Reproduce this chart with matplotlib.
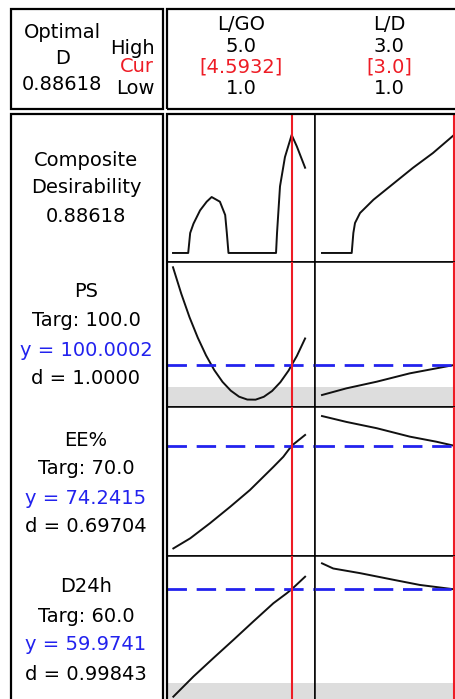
import matplotlib
matplotlib.use("Agg")
import matplotlib.pyplot as plt
from matplotlib.patches import Rectangle

plt.rcParams['font.family'] = ['DejaVu Sans']

# factors: name, high, current, low
factors = ["L/GO", "L/D"]
highs = ["5.0", "3.0"]
currents = ["[4.5932]", "[3.0]"]
lows = ["1.0", "1.0"]
cur_vals = [4.5932, 3.0]

optimal_d = "0.88618"

# responses
responses = ["PS", "EE%", "D24h"]
targets = ["Targ: 100.0", "Targ: 70.0", "Targ: 60.0"]
y_texts = ["y = 100.0002", "y = 74.2415", "y = 59.9741"]
d_texts = ["d = 1.0000", "d = 0.69704", "d = 0.99843"]
y_now = [100.0002, 74.2415, 59.9741]
lower_bounds = [80.0, None, 40.0]

# composite desirability curves
comp_x1 = [1.0, 1.46, 1.52, 1.62, 1.82, 2.02, 2.17, 2.42, 2.58, 2.63, 2.68, 4.12, 4.15, 4.24, 4.39, 4.5932, 4.75, 5.0]
comp_d1 = [0, 0, 0.15, 0.22, 0.32, 0.385, 0.42, 0.385, 0.285, 0.15, 0, 0, 0.15, 0.50, 0.72, 0.886, 0.80, 0.64]
comp_x2 = [1.0, 1.45, 1.475, 1.5, 1.576, 1.78, 2.08, 2.38, 2.68, 3.0]
comp_d2 = [0, 0, 0.15, 0.225, 0.30, 0.40, 0.52, 0.64, 0.75, 0.886]

# PS
ps_x1 = [1.0, 1.25, 1.5, 1.75, 2.0, 2.25, 2.5, 2.75, 3.0, 3.25, 3.5, 3.75, 4.0, 4.25, 4.5, 4.5932, 4.75, 5.0]
ps_y1 = [188.0, 164.2, 143.0, 124.6, 108.7, 95.4, 84.8, 76.9, 71.5, 68.9, 68.8, 71.4, 76.6, 84.5, 95.0, 100.0, 108.1, 123.9]
ps_x2 = [1.0, 1.37, 1.83, 2.33, 3.0]
ps_y2 = [73.0, 79.0, 85.0, 92.5, 100.0]

# EE%
ee_x1 = [1.01, 1.52, 2.12, 2.73, 3.33, 3.64, 4.04, 4.34, 4.5932, 5.0]
ee_y1 = [49.8, 52.2, 55.8, 59.7, 63.7, 66.1, 69.2, 71.6, 74.24, 76.8]
ee_x2 = [1.0, 1.37, 1.83, 2.33, 2.73, 3.0]
ee_y2 = [81.3, 79.9, 78.4, 76.4, 75.2, 74.24]

# D24h
dh_x1 = [1.01, 1.62, 2.22, 2.83, 3.43, 4.04, 4.44, 4.5932, 5.0]
dh_y1 = [37.1, 41.4, 45.3, 49.2, 53.1, 57.0, 59.1, 59.97, 62.65]
dh_x2 = [1.0, 1.17, 1.58, 2.08, 2.48, 3.0]
dh_y2 = [65.5, 64.4, 63.4, 62.0, 60.9, 59.97]

curves = [
    [(comp_x1, comp_d1), (comp_x2, comp_d2)],
    [(ps_x1, ps_y1), (ps_x2, ps_y2)],
    [(ee_x1, ee_y1), (ee_x2, ee_y2)],
    [(dh_x1, dh_y1), (dh_x2, dh_y2)],
]
ylims = [(-0.064, 1.047), (62.2, 193.2), (48.0, 83.45), (35.54, 67.06)]
xlims = [(0.818, 5.30), (0.894, 3.136)]

W, H = 456, 699
RED = '#ee1c25'
BLUE = '#2222ee'

fig = plt.figure(figsize=(W / 100, H / 100), dpi=100)


def fx(px):
    return px / W


def fy(py):
    return 1 - py / H


col_edges = [167, 315, 463]
row_edges = [113.5, 261.5, 407, 556, 704]

for r in range(4):
    for c in range(2):
        x0, x1 = col_edges[c], col_edges[c + 1]
        y0, y1 = row_edges[r], row_edges[r + 1]
        ax = fig.add_axes([fx(x0), fy(y1), (x1 - x0) / W, (y1 - y0) / H])
        ax.set_xlim(xlims[c])
        ax.set_ylim(ylims[r])
        ax.set_xticks([])
        ax.set_yticks([])
        for s in ax.spines.values():
            s.set_linewidth(1.1)
            s.set_color('black')
        if r > 0 and lower_bounds[r - 1] is not None:
            ax.axhspan(ylims[r][0], lower_bounds[r - 1], color='#dddddd', lw=0, zorder=0)
        xs, ys = curves[r][c]
        ax.plot(xs, ys, color='#111111', lw=1.4, zorder=2)
        if r > 0:
            ax.axhline(y_now[r - 1], color=BLUE, lw=2, linestyle=(0, (7, 3.5)), zorder=3)
        ax.axvline(cur_vals[c], color=RED, lw=1.5, zorder=4)

# boxes
box_kw = dict(fill=False, lw=1.6, edgecolor='black', transform=fig.transFigure, clip_on=False)
for (x0, y0, x1, y1) in [(11, 9, 163, 109), (167, 9, 480, 109), (11, 114, 163, 720), (167, 114, 480, 720)]:
    fig.patches.append(Rectangle((fx(x0), fy(y1)), (x1 - x0) / W, (y1 - y0) / H, **box_kw))

fs = 14
# header left
fig.text(fx(62), fy(32), "Optimal", ha='center', va='center', fontsize=fs)
fig.text(fx(63), fy(58), "D", ha='center', va='center', fontsize=fs)
fig.text(fx(62), fy(85), optimal_d, ha='center', va='center', fontsize=fs)
fig.text(fx(155), fy(48), "High", ha='right', va='center', fontsize=fs)
fig.text(fx(154), fy(66), "Cur", ha='right', va='center', fontsize=fs, color=RED)
fig.text(fx(155), fy(88), "Low", ha='right', va='center', fontsize=fs)

# header factors
for i, name in enumerate(factors):
    cx = (col_edges[i] + col_edges[i + 1]) / 2
    fig.text(fx(cx), fy(25), name, ha='center', va='center', fontsize=fs)
    fig.text(fx(cx), fy(47), highs[i], ha='center', va='center', fontsize=fs)
    fig.text(fx(cx), fy(67), currents[i], ha='center', va='center', fontsize=fs, color=RED)
    fig.text(fx(cx), fy(89), lows[i], ha='center', va='center', fontsize=fs)

# left column
lx = 86
fig.text(fx(lx), fy(160), "Composite", ha='center', va='center', fontsize=fs)
fig.text(fx(lx), fy(188), "Desirability", ha='center', va='center', fontsize=fs)
fig.text(fx(lx), fy(217), optimal_d, ha='center', va='center', fontsize=fs)

block_tops = [292, 440, 587]
for i in range(3):
    t = block_tops[i]
    fig.text(fx(lx), fy(t), responses[i], ha='center', va='center', fontsize=fs)
    fig.text(fx(lx), fy(t + 29), targets[i], ha='center', va='center', fontsize=fs)
    fig.text(fx(lx), fy(t + 58), y_texts[i], ha='center', va='center', fontsize=fs, color=BLUE)
    fig.text(fx(lx), fy(t + 87), d_texts[i], ha='center', va='center', fontsize=fs)

fig.savefig("out.png", dpi=100, facecolor='white')
